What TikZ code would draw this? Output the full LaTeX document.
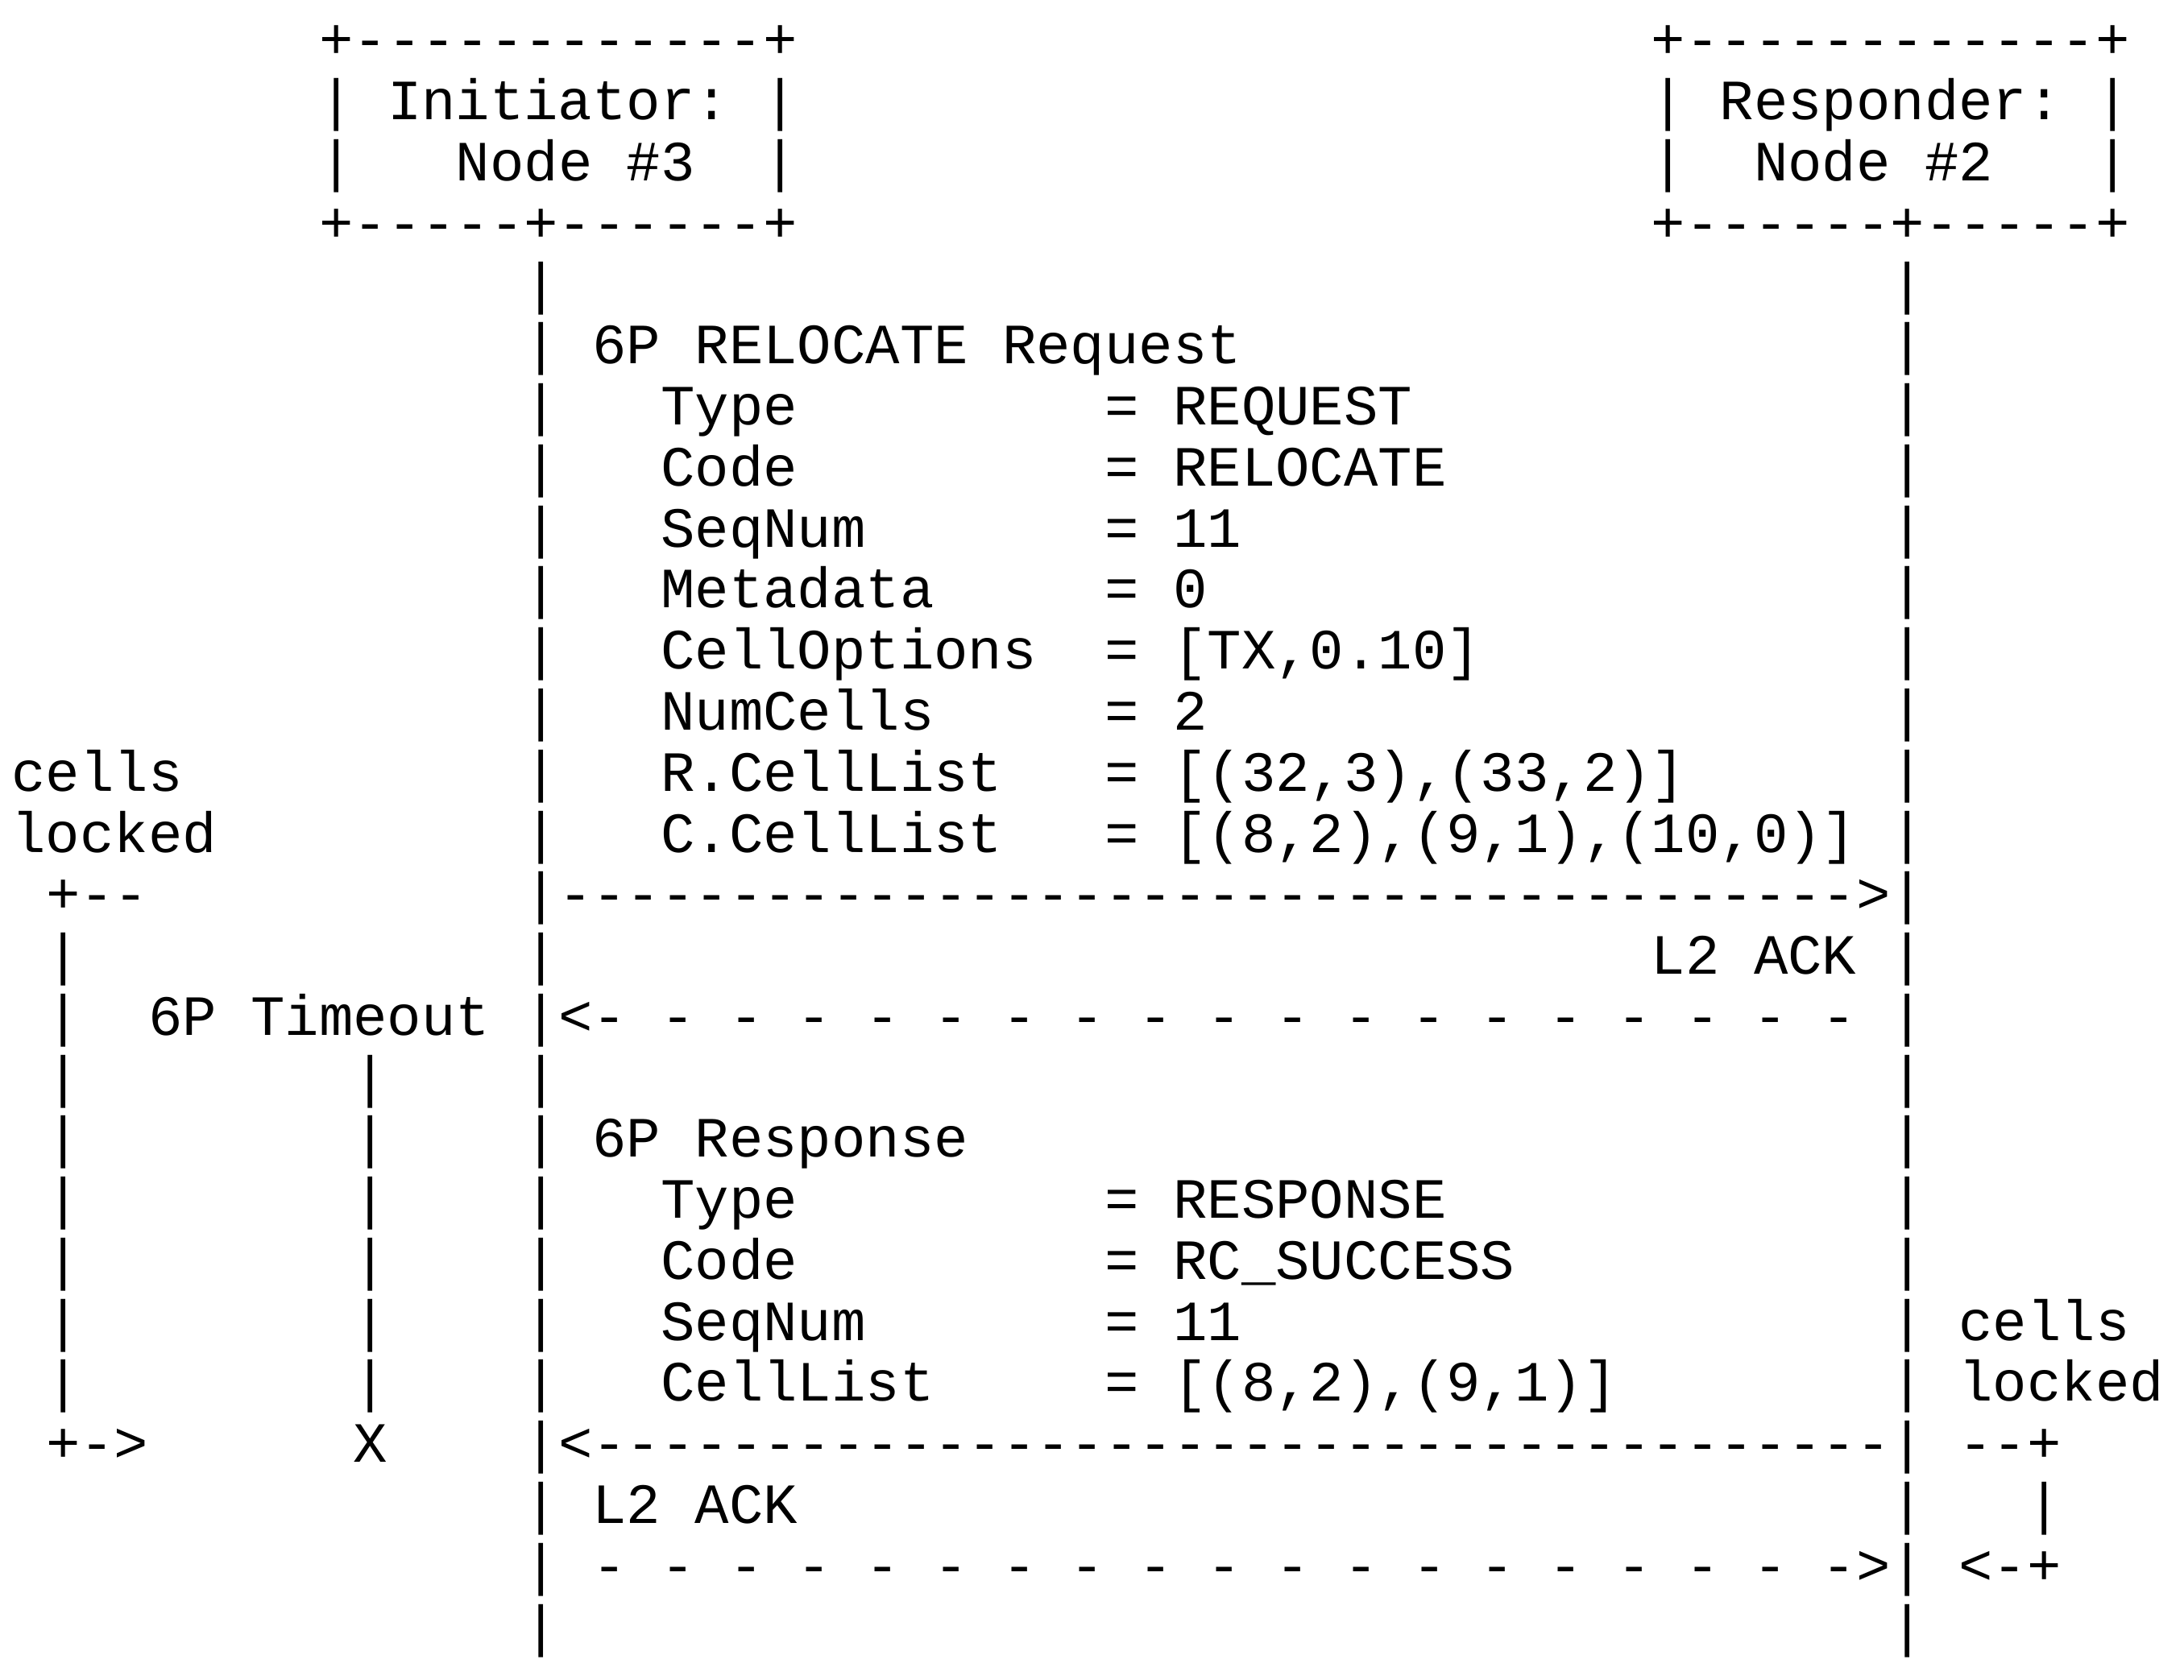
\documentclass[tikz,border=0pt]{standalone}
\usepackage{fontspec}
\setmonofont{Liberation Mono}
\newcommand\tx[3]{\node[anchor=base west,inner sep=0pt,font=\ttfamily\fontsize{20.33pt}{21.8pt}\selectfont] at (4pt+#2*12.2pt,-21pt-#1*21.8pt) {#3};}
\begin{document}
\begin{tikzpicture}
\useasboundingbox (0,0) rectangle (780pt,-600pt);
\fill[white] (0,0) rectangle (780pt,-600pt);
\tx{0}{9}{+------------+}\tx{0}{48}{+------------+}
\tx{1}{9}{| Initiator: |}\tx{1}{48}{| Responder: |}
\tx{2}{9}{|}\tx{2}{13}{Node \#3}\tx{2}{22}{|}\tx{2}{48}{|}\tx{2}{51}{Node \#2}\tx{2}{61}{|}
\tx{3}{9}{+-----+------+}\tx{3}{48}{+------+-----+}
\foreach \r in {4,...,13,15,17,18,...,22,24,26}{\tx{\r}{15}{|}\tx{\r}{55}{|}}
\tx{5}{17}{6P RELOCATE Request}
\tx{6}{19}{Type}\tx{6}{32}{= REQUEST}
\tx{7}{19}{Code}\tx{7}{32}{= RELOCATE}
\tx{8}{19}{SeqNum}\tx{8}{32}{= 11}
\tx{9}{19}{Metadata}\tx{9}{32}{= 0}
\tx{10}{19}{CellOptions}\tx{10}{32}{= [TX,0.10]}
\tx{11}{19}{NumCells}\tx{11}{32}{= 2}
\tx{12}{19}{R.CellList}\tx{12}{32}{= [(32,3),(33,2)]}
\tx{13}{19}{C.CellList}\tx{13}{32}{= [(8,2),(9,1),(10,0)]}
\tx{12}{0}{cells}\tx{13}{0}{locked}
\tx{14}{1}{+--}
\tx{14}{15}{|-------------------------------------->|}
\tx{15}{48}{L2 ACK}
\foreach \r in {15,...,22}{\tx{\r}{1}{|}}
\tx{16}{4}{6P Timeout}
\tx{16}{15}{|<- - - - - - - - - - - - - - - - - - - }\tx{16}{55}{|}
\foreach \r in {17,...,22}{\tx{\r}{10}{|}}
\tx{18}{17}{6P Response}
\tx{19}{19}{Type}\tx{19}{32}{= RESPONSE}
\tx{20}{19}{Code}\tx{20}{32}{= RC\_SUCCESS}
\tx{21}{19}{SeqNum}\tx{21}{32}{= 11}
\tx{22}{19}{CellList}\tx{22}{32}{= [(8,2),(9,1)]}
\tx{21}{57}{cells}\tx{22}{57}{locked}
\tx{23}{1}{+->}\tx{23}{10}{X}
\tx{23}{15}{|<--------------------------------------|}
\tx{23}{57}{--+}
\tx{24}{17}{L2 ACK}\tx{24}{59}{|}
\tx{25}{15}{|}\tx{25}{17}{- - - - - - - - - - - - - - - - - - ->|}
\tx{25}{57}{<-+}
\end{tikzpicture}
\end{document}
